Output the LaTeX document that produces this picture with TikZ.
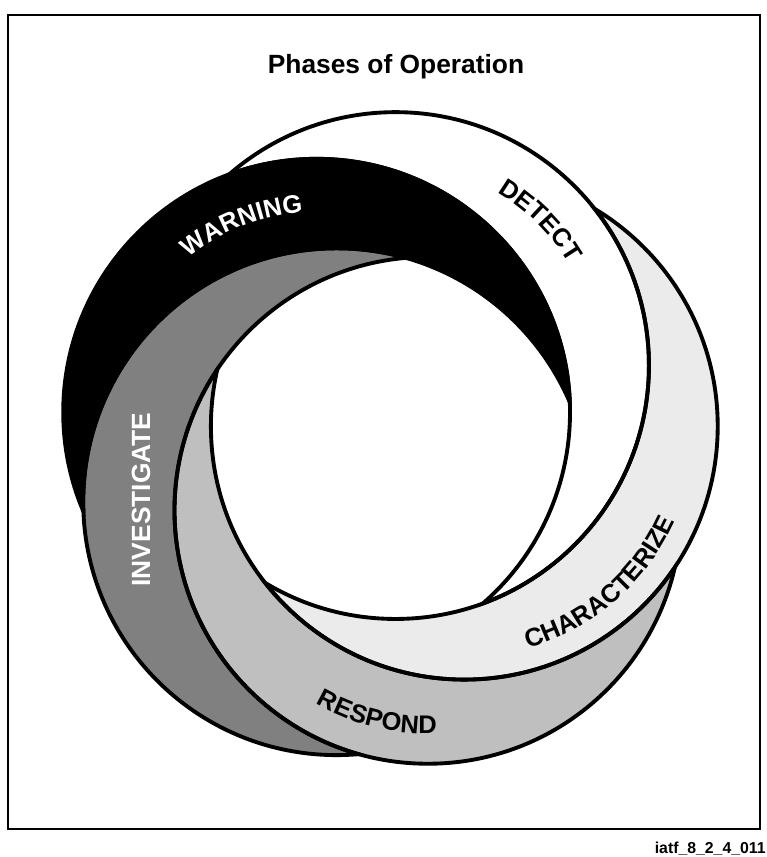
\documentclass[tikz,border=0pt]{standalone}
\usepackage{fontspec}
\setmainfont{Liberation Sans}
\usetikzlibrary{decorations.text}
\newcommand\phasefont{\bfseries\fontsize{14.5}{17}\selectfont}

\begin{document}
\begin{tikzpicture}[
    ring/.style={line width=2.2pt},
    phase/.style={decoration={text along path, text align=center, text={|\phasefont|#1}}, decorate},
  ]
    \useasboundingbox (-7.764,-8.276) rectangle (7.576,8.864);
    \draw[line width=1.1pt] (-7.604,8.564) rectangle (7.436,-7.716);
    \node[font=\bfseries\fontsize{15}{18}\selectfont, anchor=base] (title) at (0.156,7.398) {Phases of Operation};
    \node[font=\bfseries\fontsize{9}{11}\selectfont, anchor=base east, inner sep=0] (tag) at (7.556,-8.196) {iatf\_8\_2\_4\_011};
    % each phase is its ring minus the ring that lies over it
    \foreach \a/\col in {84.6/white, 12.6/black!8, -59.4/black!25, -131.4/black!50, 156.6/black} {
      \begin{scope}[even odd rule]
        \clip (\a:1.56) circle (5.068);
        \fill[\col] (-9,10) rectangle (9,-10) ({\a+72}:1.56) circle (5.068);
      \end{scope}
    }
    % outlines: a ring shows outside the one above it, or inside the one below it
    \foreach \a in {84.6, 12.6, -59.4, -131.4, 156.6} {
      \begin{scope}[even odd rule]
        \clip (-9,10) rectangle (9,-10) ({\a+72}:1.56) circle (5.068);
        \draw[ring] (\a:1.56) circle (5.068);
      \end{scope}
      \begin{scope}
        \clip ({\a-72}:1.56) circle (5.068);
        \draw[ring] (\a:1.56) circle (5.068);
      \end{scope}
    }
    % labels
    \path[phase=WARNING, decoration={text color=white}] ([shift={(156.6:1.56)}]151.7:4.01) arc[start angle=151.7, end angle=71.7, radius=4.01];
    \path[phase=DETECT] ([shift={(84.6:1.56)}]85:4.02) arc[start angle=85, end angle=5, radius=4.02];
    \path[phase=CHARACTERIZE] ([shift={(12.6:1.56)}]-99.1:4.62) arc[start angle=-99.1, end angle=0.9, radius=4.62];
    \path[phase=RESPOND] ([shift={(-59.4:1.56)}]-143.9:4.47) arc[start angle=-143.9, end angle=-63.9, radius=4.47];
    \node[font=\bfseries\fontsize{15}{18}\selectfont, text=white, rotate=90, inner sep=0] (investigate) at (-4.944,-1.126) {INVESTIGATE};
\end{tikzpicture}
\end{document}
